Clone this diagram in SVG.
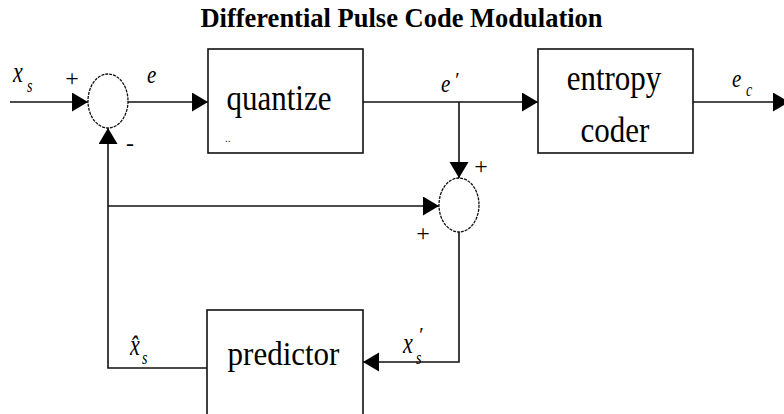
<svg xmlns="http://www.w3.org/2000/svg" width="784" height="414" viewBox="0 0 784 414">
<style>
.ln{fill:none;stroke:#111;stroke-width:1.6}
.box{fill:#fff;stroke:#111;stroke-width:1.6}
.sum{fill:#fff;stroke:#111;stroke-width:1.3;stroke-dasharray:3 1}
.big{font-family:"Liberation Serif","Times New Roman",serif;font-size:31px;fill:#000;text-anchor:middle}
.lab{font-family:"Liberation Serif","Times New Roman",serif;font-style:italic;fill:#000}
.sgn{font-family:"Liberation Serif","Times New Roman",serif;font-size:24px;fill:#000;text-anchor:middle}
.title{font-family:"Liberation Serif","Times New Roman",serif;font-weight:bold;font-size:26.5px;fill:#000;text-anchor:middle}
</style>
<defs>
<marker id="ah" markerUnits="userSpaceOnUse" markerWidth="18" markerHeight="20" refX="16" refY="9.5" orient="auto">
<path d="M0,0 L16,9.5 L0,19 z" fill="#000"/>
</marker>
</defs>
<rect width="784" height="414" fill="#fff"/>
<text class="title" x="401.5" y="27">Differential Pulse Code Modulation</text>

<g id="connectors">
<line class="ln" x1="10" y1="102" x2="88" y2="102" marker-end="url(#ah)"/>
<line class="ln" x1="128" y1="102" x2="208" y2="102" marker-end="url(#ah)"/>
<line class="ln" x1="363" y1="102" x2="538" y2="102" marker-end="url(#ah)"/>
<line class="ln" x1="693" y1="102" x2="789" y2="102" marker-end="url(#ah)"/>
<line class="ln" x1="459" y1="102" x2="459" y2="178" marker-end="url(#ah)"/>
<line class="ln" x1="108" y1="206" x2="439" y2="206" marker-end="url(#ah)"/>
<polyline class="ln" points="207,368 108,368 108,128" marker-end="url(#ah)"/>
<polyline class="ln" points="459,232 459,362 363,362" marker-end="url(#ah)"/>
</g>

<g id="sum1">
<ellipse class="sum" cx="108" cy="101" rx="20" ry="27"/>
<text class="sgn" x="72" y="86">+</text>
<text class="sgn" x="130" y="151">-</text>
</g>

<g id="quantize">
<rect class="box" x="208" y="49" width="155" height="104"/>
<text class="big" transform="translate(279,110) scale(1,1.18)">quantize</text>
<text x="225" y="142" font-family="Liberation Sans, sans-serif" font-size="10" fill="#000">..</text>
</g>

<g id="entropy">
<rect class="box" x="538" y="49" width="155" height="104"/>
<text class="big" transform="translate(614,90) scale(1,1.18)" font-size="29">entropy</text>
<text class="big" transform="translate(615,142) scale(1,1.18)" font-size="29">coder</text>
</g>

<g id="sum2">
<ellipse class="sum" cx="459" cy="205" rx="20" ry="27"/>
<text class="sgn" x="481" y="174">+</text>
<text class="sgn" x="423" y="241">+</text>
</g>

<g id="predictor">
<rect class="box" x="207" y="310" width="156" height="110"/>
<text class="big" transform="translate(283.5,365) scale(1,1.1)">predictor</text>
</g>

<g id="labels">
<text class="lab" transform="translate(13,82) scale(1,1.3)" font-size="22">x</text>
<text class="lab" transform="translate(27,92) scale(1,1.3)" font-size="14">s</text>
<text class="lab" transform="translate(147,83) scale(1,1.15)" font-size="21">e</text>
<text class="lab" transform="translate(441,92) scale(1,1.15)" font-size="21">e</text>
<text class="lab" x="454" y="87" font-size="20">′</text>
<text class="lab" transform="translate(732,87) scale(1,1.15)" font-size="21">e</text>
<text class="lab" transform="translate(746,96) scale(1,1.3)" font-size="14">c</text>
<text class="lab" transform="translate(130,355) scale(1,1.3)" font-size="22">x̂</text>
<text class="lab" transform="translate(142,364) scale(1,1.3)" font-size="14">s</text>
<text class="lab" transform="translate(403,353) scale(1,1.3)" font-size="22">x</text>
<text class="lab" x="418" y="342" font-size="20">′</text>
<text class="lab" transform="translate(416,364) scale(1,1.3)" font-size="14">s</text>
</g>
</svg>
